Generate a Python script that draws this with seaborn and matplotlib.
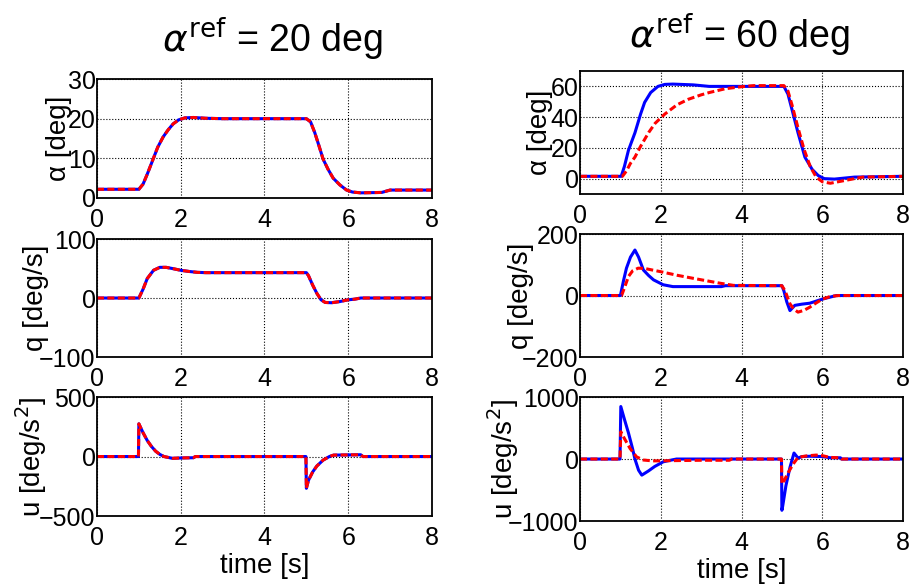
import matplotlib
matplotlib.use("Agg")
import matplotlib.pyplot as plt
import seaborn as sns

# ---- alpha_ref = 20 deg (blue and red coincide) ----
a20_t = [0, 1.0, 1.1, 1.2, 1.34, 1.45, 1.58, 1.7, 1.82, 1.95, 2.1, 2.3, 2.6, 3.0,
         5.0, 5.1, 5.2, 5.3, 5.4, 5.52, 5.64, 5.8, 5.96, 6.1, 6.3, 6.8, 7.0, 8.0]
a20_alpha = [2.2, 2.2, 3.5, 6.0, 9.8, 12.8, 15.4, 17.2, 18.7, 19.7, 20.2, 20.3, 20.1, 20.0,
             20.0, 19.2, 16.5, 13.2, 9.8, 7.2, 5.0, 3.3, 2.0, 1.5, 1.3, 1.4, 2.0, 2.0]

q20_t = [0, 1.0, 1.1, 1.2, 1.35, 1.5, 1.65, 1.8, 2.0, 2.2, 2.4, 2.6,
         5.0, 5.05, 5.15, 5.25, 5.35, 5.45, 5.6, 5.8, 6.0, 6.15, 6.3, 8.0]
q20_q = [0, 0, 15, 33, 47, 52, 52, 50, 47, 45, 43.5, 43,
         43, 38, 22, 8, -3, -7.5, -8, -6, -3, -2, 0, 0]

u20_t = [0, 0.99, 1.0, 1.1, 1.2, 1.3, 1.4, 1.5, 1.6, 1.8, 2.0, 2.3, 2.35,
         4.99, 5.0, 5.05, 5.15, 5.25, 5.4, 5.55, 5.65, 6.3, 6.35, 8.0]
u20_u = [0, 0, 275, 200, 135, 85, 45, 18, 0, -15, -12, -10, 0,
         0, -267, -200, -130, -80, -30, 0, 12, 15, 0, 0]

# ---- alpha_ref = 60 deg ----
a60_t_blue = [0, 1.02, 1.1, 1.2, 1.36, 1.5, 1.6, 1.75, 1.93, 2.1, 2.3, 2.8, 3.2,
              5.05, 5.15, 5.25, 5.4, 5.57, 5.75, 5.9, 6.05, 6.3, 6.8, 8.0]
a60_blue = [1.5, 1.5, 8, 18.5, 29.8, 42, 49.6, 56, 60, 61.3, 61.5, 61, 60,
            60, 55, 45, 29.8, 14, 6, 2, 0, -0.3, 1, 1.5]
a60_t_red = [0, 1.05, 1.15, 1.25, 1.36, 1.5, 1.7, 1.86, 2.1, 2.4, 2.68, 3.0, 3.2, 3.6, 4.0, 4.3,
             5.05, 5.15, 5.25, 5.4, 5.55, 5.7, 5.85, 6.0, 6.2, 6.4, 7.0, 8.0]
a60_red = [1.5, 1.5, 5, 10, 14, 21, 30, 36, 42, 48, 51.6, 54.5, 56, 58.5, 59.8, 60.5,
           60.5, 57, 48, 33, 19, 8, 1, -2, -3, -2, 1, 1.5]

q60_t_blue = [0, 1.0, 1.08, 1.15, 1.25, 1.36, 1.45, 1.57, 1.7, 1.82, 2.06, 2.3, 3.5, 3.6,
              5.0, 5.05, 5.12, 5.2, 5.32, 5.5, 5.69, 6.02, 6.35, 8.0]
q60_blue = [0, 0, 50, 89, 125, 148, 125, 83, 65, 51, 35, 29, 29, 32,
            32, 15, -20, -49, -32, -28, -25, -11, 0, 0]
q60_t_red = [0, 1.03, 1.1, 1.2, 1.3, 1.44, 1.6, 1.98, 2.4, 2.8, 3.47, 3.8,
             5.0, 5.08, 5.2, 5.3, 5.4, 5.55, 5.69, 5.85, 6.0, 6.2, 6.4, 8.0]
q60_red = [0, 0, 25, 62, 80, 89, 88, 78, 66, 56, 40, 33,
           32, 15, -27, -45, -54, -48, -38, -24, -12, -3, 0, 0]

u60_t_blue = [0, 0.99, 1.01, 1.1, 1.2, 1.3, 1.36, 1.45, 1.53, 1.7, 1.85, 2.06, 2.2, 2.39,
              4.99, 5.0, 5.02, 5.1, 5.2, 5.3, 5.4, 5.5, 5.7, 6.0, 6.2, 6.45, 6.48, 8.0]
u60_blue = [0, 0, 847, 640, 420, 170, 0, -180, -260, -190, -120, -45, -25, 0,
            0, -827, -760, -430, -135, 97, 16, 40, 45, 40, 20, 20, 0, 0]
u60_t_red = [0, 0.99, 1.01, 1.1, 1.24, 1.4, 1.57, 1.8, 2.4, 3.0, 3.7, 3.75,
             4.99, 5.0, 5.03, 5.16, 5.28, 5.4, 5.6, 5.85, 6.0, 6.19, 6.45, 6.48, 8.0]
u60_red = [0, 0, 440, 330, 170, 35, -16, -30, -25, -20, -20, 0,
           0, -400, -380, -215, -80, 26, 50, 64, 55, 26, 20, 0, 0]

time_ticks = [0, 2, 4, 6, 8]

sns.set_style("white")
plt.rcParams["font.family"] = ["Liberation Sans", "DejaVu Sans"]
plt.rcParams["mathtext.fontset"] = "dejavusans"
plt.rcParams["text.color"] = "k"
plt.rcParams["axes.labelcolor"] = "k"

fig = plt.figure(figsize=(9.1, 5.87), dpi=100)


def panel(rect, tb, yb, tr, yr, ylim, yticks, ylabel, labx, xlabel=None):
    ax = fig.add_axes(rect)
    sns.lineplot(x=tb, y=yb, ax=ax, color="#0000ff", lw=2.2,
                 estimator=None, sort=False)
    sns.lineplot(x=tr, y=yr, ax=ax, color="#ff0000", lw=2.2,
                 linestyle=(0, (2.3, 1.1)), estimator=None, sort=False)
    ax.set_xlim(0, 8)
    ax.set_ylim(*ylim)
    ax.set_xticks(time_ticks)
    ax.set_yticks(yticks)
    ax.grid(True, color="k", linestyle=":", lw=0.8)
    ax.tick_params(direction="in", length=3, labelsize=18, colors="k")
    ax.tick_params(axis="x", pad=7)
    ax.tick_params(axis="y", pad=1)
    ax.set_ylabel(ylabel, fontsize=20)
    ax.yaxis.set_label_coords(labx, 0.5)
    if xlabel:
        ax.set_xlabel(xlabel, fontsize=20, labelpad=2)
    for s in ax.spines.values():
        s.set_color("k")
        s.set_linewidth(1.3)
    return ax


# left column
panel([0.1066, 0.6627, 0.3681, 0.2027], a20_t, a20_alpha, a20_t, a20_alpha,
      (0, 30), [0, 10, 20, 30], "α [deg]", -0.074)
panel([0.1066, 0.3918, 0.3681, 0.2010], q20_t, q20_q, q20_t, q20_q,
      (-100, 100), [-100, 0, 100], "q [deg/s]", -0.144)
panel([0.1066, 0.1209, 0.3681, 0.2027], u20_t, u20_u, u20_t, u20_u,
      (-500, 500), [-500, 0, 500], r"u [deg/s$^2$]", -0.144, "time [s]")

# right column
panel([0.6374, 0.6695, 0.3549, 0.2095], a60_t_blue, a60_blue, a60_t_red, a60_red,
      (-10, 70), [0, 20, 40, 60], "α [deg]", -0.083)
panel([0.6374, 0.3918, 0.3549, 0.2095], q60_t_blue, q60_blue, q60_t_red, q60_red,
      (-200, 200), [-200, 0, 200], "q [deg/s]", -0.143)
panel([0.6374, 0.1124, 0.3549, 0.2112], u60_t_blue, u60_blue, u60_t_red, u60_red,
      (-1000, 1000), [-1000, 0, 1000], r"u [deg/s$^2$]", -0.183, "time [s]")

fig.text(0.299, 0.932, r"$\alpha^{\mathrm{ref}}$ = 20 deg", ha="center", va="center", fontsize=27)
fig.text(0.813, 0.940, r"$\alpha^{\mathrm{ref}}$ = 60 deg", ha="center", va="center", fontsize=27)

fig.savefig("out.png", dpi=100)
